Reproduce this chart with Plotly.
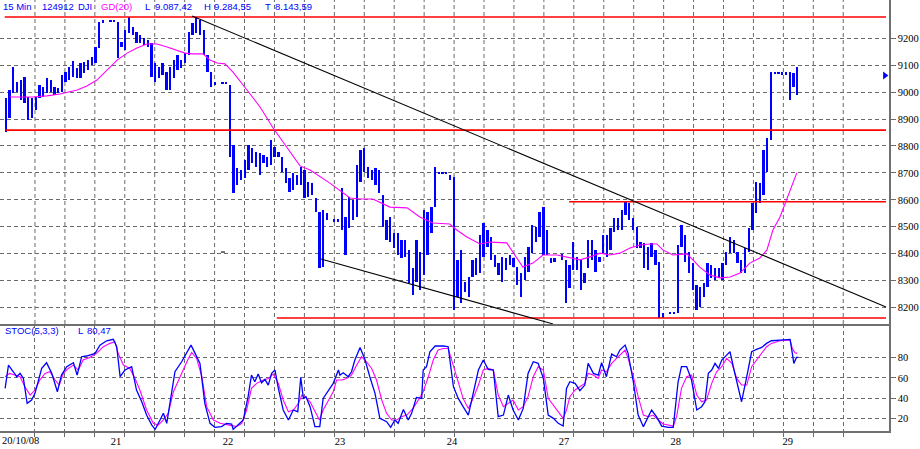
import plotly.graph_objects as go

# ---------------- data ----------------
# 15-minute bars: (slot, high, low); 30 slots per trading day, slot 0 = first bar of 20/10/08
bars = [
    (0, 8978, 8852), (1, 9008, 8904), (2, 9093, 8997), (3, 9038, 9001), (4, 9045, 8971),
    (5, 9056, 8960), (6, 8982, 8897), (7, 8978, 8904), (8, 8982, 8934), (9, 9027, 8978),
    (10, 9019, 8982), (11, 9053, 8997), (12, 9045, 9001), (13, 9019, 8989), (14, 9015, 8997),
    (15, 9064, 9001), (16, 9075, 9038), (17, 9093, 9045), (18, 9116, 9056), (19, 9090, 9053),
    (20, 9108, 9053), (21, 9112, 9071), (22, 9119, 9082), (23, 9131, 9101), (24, 9168, 9108),
    (25, 9261, 9164), (26, 9268, 9257), (28, 9266, 9261), (29, 9266, 9261),
    (30, 9261, 9127), (31, 9186, 9168), (32, 9231, 9157), (33, 9279, 9220), (34, 9242, 9212),
    (35, 9223, 9183), (36, 9212, 9183), (37, 9201, 9175), (38, 9194, 9168), (39, 9183, 9056),
    (40, 9108, 9038), (41, 9093, 9053), (42, 9108, 9064), (43, 9075, 9008), (44, 9093, 9008),
    (45, 9119, 9053), (46, 9138, 9082), (47, 9119, 9090), (48, 9145, 9108), (49, 9223, 9138),
    (50, 9257, 9212), (51, 9279, 9220), (52, 9268, 9212), (53, 9231, 9138), (54, 9138, 9075),
    (55, 9075, 9019), (56, 9038, 9027), (58, 9038, 9032), (59, 9038, 9032),
    (60, 9027, 8759), (61, 8804, 8625), (62, 8718, 8655), (63, 8711, 8674), (64, 8748, 8681),
    (65, 8804, 8711), (66, 8793, 8737), (67, 8778, 8722), (68, 8774, 8692), (69, 8767, 8737),
    (70, 8759, 8722), (71, 8822, 8729), (72, 8796, 8759), (73, 8778, 8759), (74, 8759, 8703),
    (75, 8718, 8662), (76, 8681, 8629), (77, 8700, 8636), (78, 8692, 8655), (79, 8722, 8655),
    (80, 8711, 8607), (81, 8666, 8611), (82, 8662, 8618), (83, 8607, 8555), (84, 8555, 8347),
    (85, 8562, 8350), (86, 8551, 8525), (88, 8527, 8521), (89, 8527, 8521),
    (90, 8644, 8488), (91, 8536, 8395), (92, 8611, 8495), (93, 8599, 8525), (94, 8729, 8536),
    (95, 8785, 8666), (96, 8793, 8703), (97, 8722, 8681), (98, 8711, 8674), (99, 8718, 8655),
    (100, 8711, 8625), (101, 8618, 8499), (102, 8525, 8451), (103, 8536, 8443), (104, 8477, 8421),
    (105, 8477, 8395), (106, 8451, 8384), (107, 8451, 8388), (108, 8414, 8291), (109, 8347, 8246),
    (110, 8451, 8295), (111, 8406, 8265), (112, 8562, 8321), (113, 8555, 8395), (114, 8573, 8477),
    (115, 8722, 8573), (116, 8703, 8697), (117, 8703, 8697), (118, 8703, 8697), (119, 8692, 8674),
    (120, 8685, 8191), (121, 8377, 8239), (122, 8414, 8217), (123, 8295, 8258), (124, 8313, 8239),
    (125, 8377, 8313), (126, 8384, 8321), (127, 8469, 8328), (128, 8514, 8388), (129, 8488, 8425),
    (130, 8462, 8377), (131, 8395, 8350), (132, 8365, 8321), (133, 8388, 8295), (134, 8384, 8339),
    (135, 8395, 8358), (136, 8384, 8350), (137, 8350, 8284), (138, 8328, 8239), (139, 8388, 8302),
    (140, 8425, 8332), (141, 8507, 8402), (142, 8499, 8443), (143, 8555, 8462), (144, 8573, 8395),
    (145, 8488, 8395), (146, 8384, 8365), (147, 8384, 8369), (149, 8400, 8378),
    (150, 8377, 8217), (151, 8358, 8272), (152, 8443, 8339), (153, 8388, 8339), (154, 8377, 8265),
    (155, 8328, 8291), (156, 8451, 8347), (157, 8451, 8377), (158, 8414, 8332), (159, 8388, 8369),
    (160, 8469, 8402), (161, 8469, 8388), (162, 8495, 8414), (163, 8533, 8481), (164, 8533, 8488),
    (165, 8562, 8488), (166, 8592, 8544), (167, 8588, 8525), (168, 8533, 8488), (169, 8499, 8421),
    (170, 8443, 8421), (171, 8440, 8347), (172, 8425, 8339), (173, 8440, 8388), (174, 8414, 8358),
    (175, 8369, 8161), (176, 8180, 8161), (178, 8182, 8176), (179, 8182, 8176),
    (180, 8432, 8180), (181, 8507, 8425), (182, 8469, 8369), (183, 8406, 8328), (184, 8365, 8265),
    (185, 8284, 8191), (186, 8276, 8202), (187, 8291, 8239), (188, 8365, 8276), (189, 8358, 8310),
    (190, 8347, 8302), (191, 8347, 8310), (192, 8365, 8302), (193, 8406, 8358), (194, 8462, 8402),
    (195, 8451, 8402), (196, 8406, 8365), (197, 8377, 8328), (198, 8421, 8328), (199, 8495, 8406),
    (200, 8588, 8488), (201, 8666, 8551), (202, 8662, 8588), (203, 8785, 8618), (204, 8830, 8703),
    (205, 9075, 8822), (206, 9075, 9067), (207, 9075, 9067), (208, 9075, 9064), (209, 9075, 9064),
    (210, 9075, 8971), (211, 9071, 9019), (212, 9093, 8989),
]

# GD(20) moving average: (slot, value)
ma20 = [
    (1.1, 8982), (7.3, 8982), (11.0, 8986), (14.5, 8993), (19.1, 9008), (21.7, 9023),
    (24.4, 9045), (27.1, 9082), (29.8, 9119), (32.5, 9145), (35.1, 9164), (37.8, 9179),
    (40.5, 9179), (43.2, 9168), (45.8, 9157), (48.0, 9145), (50.1, 9142), (52.8, 9142),
    (54.7, 9119), (56.6, 9108), (58.7, 9105), (60.8, 9075), (64.6, 9008), (68.1, 8945),
    (71.6, 8867), (75.3, 8796), (78.8, 8726), (81.5, 8711), (86.8, 8662), (92.2, 8607),
    (94.9, 8603), (98.3, 8603), (102.9, 8573), (107.5, 8570), (110.9, 8536), (114.4, 8514),
    (118.9, 8510), (120.8, 8488), (123.5, 8462), (127.0, 8436), (129.7, 8443), (134.2, 8440),
    (135.8, 8406), (138.5, 8350), (141.2, 8365), (143.9, 8395), (147.6, 8395), (151.1, 8384),
    (153.8, 8377), (156.5, 8388), (159.2, 8402), (161.8, 8395), (164.5, 8402), (167.2, 8421),
    (169.9, 8432), (172.5, 8436), (174.4, 8436), (176.0, 8414), (178.7, 8395), (182.5, 8399),
    (185.9, 8350), (188.6, 8321), (191.3, 8310), (194.0, 8313), (196.7, 8328), (199.3, 8365),
    (202.0, 8384), (203.9, 8414), (205.5, 8488), (207.4, 8536), (209.2, 8599), (210.9, 8662),
    (211.9, 8700),
]

# STOC(5,3,3) %K (blue) and %D (magenta): (slot, value)
stoch_k = [
    (-0.2, 49.6), (0.7, 72.7), (2.0, 66.1), (2.9, 61.2), (3.8, 64.5), (4.7, 59.5), (5.7, 34.8),
    (6.9, 38.1), (7.8, 44.7), (8.7, 57.9), (9.6, 69.4), (10.9, 75.0), (12.3, 64.5), (13.8, 46.3),
    (14.9, 62.8), (16.3, 71.1), (17.6, 74.4), (18.1, 75.0), (19.1, 62.8), (20.3, 81.0), (21.6, 81.7),
    (23.9, 84.3), (25.2, 92.5), (27.0, 96.8), (28.8, 98.2), (29.7, 90.9), (30.6, 61.2), (31.9, 67.8),
    (33.7, 71.1), (35.0, 48.0), (36.4, 36.4), (37.7, 23.2), (39.1, 13.3), (40.0, 9.0), (41.3, 18.3),
    (42.2, 24.9), (43.1, 15.0), (44.0, 34.8), (45.3, 66.1), (47.1, 76.0), (48.4, 84.3), (49.6, 92.5),
    (50.7, 84.3), (52.0, 74.4), (53.3, 34.8), (54.7, 15.0), (56.0, 11.0), (57.8, 11.7), (59.1, 15.0),
    (60.5, 14.3), (60.9, 9.0), (62.3, 14.3), (63.6, 18.3), (64.9, 41.4), (65.8, 62.8), (66.7, 56.2),
    (67.6, 63.8), (68.5, 55.2), (69.4, 58.5), (70.3, 52.9), (71.2, 64.5), (72.1, 67.8), (73.0, 49.6),
    (74.3, 28.2), (75.7, 18.3), (77.0, 28.2), (78.2, 26.5), (79.0, 60.5), (79.7, 39.7), (80.4, 41.4),
    (81.5, 31.5), (82.8, 11.7), (84.1, 11.7), (85.0, 39.7), (86.4, 48.0), (87.7, 54.6), (89.1, 67.8),
    (89.5, 62.8), (90.4, 65.1), (91.7, 61.2), (92.6, 66.1), (93.5, 77.7), (94.9, 90.2), (96.2, 78.3),
    (97.5, 61.2), (98.9, 44.7), (100.2, 19.9), (102.0, 16.6), (103.1, 11.0), (104.2, 18.3),
    (105.1, 15.0), (106.5, 28.8), (107.8, 18.3), (108.7, 24.9), (110.0, 40.7), (111.4, 39.7),
    (111.8, 67.8), (112.7, 71.1), (113.6, 85.9), (115.0, 91.6), (117.2, 91.6), (118.5, 90.9),
    (119.9, 51.3), (121.2, 39.7), (122.5, 31.5), (123.9, 23.2), (125.2, 44.7), (126.6, 67.8),
    (127.9, 77.7), (129.2, 68.4), (130.6, 67.8), (131.9, 21.6), (133.3, 23.2), (134.6, 43.0),
    (135.9, 28.2), (137.3, 18.3), (138.6, 29.8), (139.9, 64.5), (141.3, 76.0), (142.6, 74.4),
    (144.0, 59.5), (145.3, 23.2), (146.7, 19.9), (148.0, 15.0), (149.3, 12.3), (150.2, 49.6),
    (151.1, 56.2), (152.5, 54.6), (153.8, 47.3), (155.1, 52.9), (156.0, 74.4), (157.4, 64.5),
    (158.7, 62.8), (159.6, 75.0), (160.9, 61.2), (162.3, 83.6), (163.6, 81.0), (164.5, 87.6),
    (165.9, 92.5), (166.7, 84.3), (168.1, 56.2), (169.4, 23.2), (170.8, 11.7), (172.1, 21.6),
    (173.0, 28.2), (174.3, 21.6), (175.7, 12.3), (177.5, 11.0), (178.8, 11.0), (180.1, 56.2),
    (181.0, 71.1), (182.4, 71.1), (183.7, 57.9), (185.1, 28.2), (186.4, 31.5), (187.3, 36.4),
    (188.2, 64.5), (189.1, 67.8), (190.0, 74.4), (190.9, 69.4), (191.8, 77.7), (193.1, 82.6),
    (194.0, 85.9), (195.3, 64.5), (197.1, 36.4), (198.5, 61.2), (199.8, 85.9), (201.1, 88.3),
    (202.5, 90.2), (203.8, 94.2), (205.1, 96.8), (207.4, 97.5), (210.1, 98.2), (210.7, 84.3),
    (211.1, 74.4), (211.8, 80.3), (212.3, 80.3),
]
stoch_d = [
    (-0.2, 61.2), (1.0, 64.5), (2.4, 62.8), (3.8, 61.2), (5.1, 51.3), (6.5, 43.0), (7.8, 48.0),
    (9.1, 57.9), (10.5, 64.5), (11.8, 66.1), (13.2, 57.9), (14.3, 52.9), (15.4, 64.5), (16.7, 69.4),
    (18.1, 72.7), (19.4, 67.8), (20.7, 77.7), (22.5, 80.3), (24.3, 84.3), (26.1, 90.9), (27.9, 94.2),
    (29.2, 95.8), (30.1, 84.3), (31.5, 72.7), (33.2, 69.4), (34.6, 59.5), (35.9, 48.0), (37.7, 28.2),
    (39.5, 15.0), (40.8, 13.3), (42.2, 18.3), (43.5, 24.9), (44.9, 46.3), (46.2, 57.9), (47.5, 67.8),
    (48.9, 79.3), (49.8, 85.3), (51.1, 79.3), (52.5, 61.2), (53.8, 31.5), (55.6, 18.3), (57.4, 15.0),
    (60.0, 13.3), (61.8, 11.7), (63.2, 15.0), (64.5, 28.2), (65.8, 49.6), (67.2, 54.6), (69.0, 57.9),
    (70.3, 59.5), (71.6, 63.8), (73.0, 54.6), (74.3, 38.1), (75.7, 26.5), (77.0, 28.2), (78.4, 34.8),
    (79.3, 43.0), (80.4, 40.7), (81.5, 36.4), (82.8, 26.5), (84.0, 18.3), (85.0, 28.2), (86.4, 38.1),
    (87.7, 46.3), (88.6, 57.9), (90.0, 57.9), (91.3, 59.5), (92.6, 62.8), (94.0, 72.7), (95.3, 81.0),
    (96.6, 76.0), (98.0, 69.4), (99.3, 57.9), (100.7, 38.1), (102.0, 24.9), (103.4, 18.3),
    (104.7, 18.3), (106.0, 21.6), (107.4, 23.2), (109.1, 29.8), (110.5, 38.1), (111.8, 46.3),
    (113.2, 61.2), (114.5, 77.7), (115.8, 87.6), (117.2, 89.2), (118.5, 89.2), (119.9, 71.1),
    (121.6, 49.6), (122.5, 39.7), (123.9, 29.8), (125.2, 39.7), (126.6, 52.9), (127.9, 67.8),
    (129.2, 69.4), (130.6, 67.8), (131.9, 43.0), (133.3, 31.5), (134.6, 34.8), (135.9, 38.1),
    (137.3, 28.2), (138.6, 31.5), (139.9, 41.4), (141.3, 61.2), (142.6, 71.1), (144.0, 67.8),
    (145.3, 39.7), (146.7, 33.1), (148.0, 26.5), (149.3, 19.9), (150.2, 28.2), (151.1, 41.4),
    (152.5, 48.0), (153.8, 51.3), (155.1, 54.6), (156.0, 64.5), (157.4, 62.8), (158.7, 59.5),
    (159.6, 67.8), (160.9, 66.1), (162.3, 74.4), (163.6, 79.3), (164.5, 82.6), (165.9, 87.6),
    (166.7, 79.3), (168.1, 61.2), (169.4, 41.4), (170.8, 23.2), (172.1, 21.6), (173.4, 23.2),
    (174.8, 18.3), (176.1, 14.3), (178.8, 12.3), (179.7, 21.6), (181.0, 49.6), (182.4, 61.2),
    (183.7, 62.8), (185.1, 43.0), (186.4, 36.4), (187.7, 38.1), (189.1, 54.6), (190.4, 66.1),
    (191.8, 71.1), (193.1, 79.3), (194.5, 74.4), (195.8, 59.5), (197.1, 52.9), (198.5, 52.9),
    (199.8, 71.1), (201.1, 77.7), (202.5, 84.3), (203.8, 90.9), (205.1, 94.2), (207.4, 96.8),
    (210.1, 97.5), (210.7, 89.2), (211.4, 85.0), (212.0, 84.3),
]

# horizontal support / resistance levels: (level, from slot, to slot)
red_levels = [(9279, -0.3, 235.8), (8859, -0.1, 235.8), (8593, 150.9, 235.8), (8161, 72.6, 235.8)]
# trend lines: ((slot, price), (slot, price))
trend_lines = [((49.9, 9283), (235.8, 8202)), ((84.4, 8380), (146.6, 8139)), ((57.6, 8406), (58.7, 8406))]
last_marker = (235.5, 9062)

day_labels = ["20/10/08", "21", "22", "23", "24", "27", "28", "29"]
day_start_slot = [-0.5, 29.5, 59.5, 89.5, 119.5, 149.5, 179.5, 209.5]
price_ticks = [8200, 8300, 8400, 8500, 8600, 8700, 8800, 8900, 9000, 9100, 9200]
stoch_ticks = [20, 40, 60, 80]

header_items = [("15 Min", 1, "#0000ff"), ("124912", 40, "#0000ff"), ("DJI", 76, "#0000ff"),
                ("GD(20)", 99, "#ff00ff"), ("L", 143, "#0000ff"), ("9.087,42", 153, "#0000ff"),
                ("H", 202, "#0000ff"), ("9.284,55", 212, "#0000ff"), ("T", 263, "#0000ff"),
                ("8.143,59", 273, "#0000ff")]
stoch_header = [("STOC(5,3,3)", 3), ("L", 76), ("80,47", 85)]

# ---------------- figure ----------------
BLUE = "#0000ff"
MAG = "#ff00ff"
GRID = "#6a6a6a"
W_PLOT, H_PLOT = 889, 431
split = (431 - 324) / 431.0

fig = go.Figure()

bx = [b[0] for b in bars]
bh = [b[1] for b in bars]
bl = [b[2] for b in bars]
fig.add_trace(go.Bar(x=bx, y=[h - l for h, l in zip(bh, bl)], base=bl, width=0.62,
                     marker=dict(color=BLUE, line=dict(width=0)), xaxis="x", yaxis="y"))

for lvl, x0, x1 in red_levels:
    fig.add_trace(go.Scatter(x=[x0, x1], y=[lvl, lvl], mode="lines",
                             line=dict(color="#ff0000", width=1.6), xaxis="x", yaxis="y"))

fig.add_trace(go.Scatter(x=[p[0] for p in ma20], y=[p[1] for p in ma20], mode="lines",
                         line=dict(color=MAG, width=1.1), xaxis="x", yaxis="y"))

for (a, b) in trend_lines:
    fig.add_trace(go.Scatter(x=[a[0], b[0]], y=[a[1], b[1]], mode="lines",
                             line=dict(color="black", width=1.1), xaxis="x", yaxis="y"))

fig.add_trace(go.Scatter(x=[last_marker[0]], y=[last_marker[1]], mode="markers",
                         marker=dict(symbol="triangle-right", size=7, color=BLUE),
                         cliponaxis=False, xaxis="x", yaxis="y"))

fig.add_trace(go.Scatter(x=[p[0] for p in stoch_d], y=[p[1] for p in stoch_d], mode="lines",
                         line=dict(color=MAG, width=1.1), xaxis="x2", yaxis="y2"))
fig.add_trace(go.Scatter(x=[p[0] for p in stoch_k], y=[p[1] for p in stoch_k], mode="lines",
                         line=dict(color=BLUE, width=1.3), xaxis="x2", yaxis="y2"))

# vertical grid every 30 px
grid_x = [7.8 + 8.02 * k for k in range(28)]

x_range = [-1.572, 236.6]
tickfont = dict(family="Liberation Serif", size=10.5, color="black")
vgrid = dict(tickmode="array", tickvals=grid_x, showgrid=True, gridcolor=GRID,
             griddash="4px,3px", gridwidth=1)

fig.update_layout(
    width=920, height=449,
    margin=dict(l=0, r=31, t=0, b=18, autoexpand=False),
    paper_bgcolor="white", plot_bgcolor="white",
    showlegend=False, barmode="overlay", bargap=0,
    xaxis=dict(domain=[0, 1], range=x_range, anchor="y", showticklabels=False,
               tickmode="array", tickvals=day_start_slot[1:], ticks="", showgrid=False,
               zeroline=False, showline=True, linecolor="#707070", linewidth=1.5),
    xaxis2=dict(domain=[0, 1], range=x_range, anchor="y2", matches="x",
                tickmode="array", tickvals=day_start_slot[1:], ticktext=day_labels[1:],
                ticks="", showgrid=False, tickfont=tickfont, zeroline=False,
                showline=True, linecolor="#707070", linewidth=1.5,
                minor=dict(ticks="outside", ticklen=4, tickcolor=GRID, **vgrid)),
    yaxis=dict(domain=[split, 1], range=[8138.7, 9342.3], anchor="x", side="right",
               tickmode="array", tickvals=price_ticks, ticktext=[str(v) for v in price_ticks],
               showgrid=True, gridcolor=GRID, griddash="4px,3px", zeroline=False,
               ticks="outside", ticklen=5, tickcolor=GRID, tickfont=tickfont,
               showline=True, linecolor="#707070", linewidth=1.5),
    yaxis2=dict(domain=[0, split], range=[7.4, 113.4], anchor="x2", side="right",
                tickmode="array", tickvals=stoch_ticks, ticktext=[str(v) for v in stoch_ticks],
                showgrid=True, gridcolor=GRID, griddash="4px,3px", zeroline=False,
                ticks="outside", ticklen=5, tickcolor=GRID, tickfont=tickfont,
                showline=True, linecolor="#707070", linewidth=1.5),
)

# vertical dashed grid of the price panel
for gx in grid_x:
    fig.add_shape(type="line", xref="x", yref="paper", x0=gx, x1=gx, y0=split, y1=1,
                  layer="below", line=dict(color=GRID, width=1, dash="4px,3px"))

ann = []
hfont = dict(family="Liberation Sans", size=9.5)
for txt, px, col in header_items:
    ann.append(dict(text=txt, x=px / W_PLOT, y=1 - 6.5 / H_PLOT, xref="paper", yref="paper",
                    xanchor="left", yanchor="middle", showarrow=False,
                    font=dict(color=col, **hfont)))
for txt, px in stoch_header:
    ann.append(dict(text=txt, x=px / W_PLOT, y=1 - 330 / H_PLOT, xref="paper", yref="paper",
                    xanchor="left", yanchor="middle", showarrow=False,
                    font=dict(color=BLUE, **hfont)))
ann.append(dict(text=day_labels[0], x=0, y=-9.5 / H_PLOT, xref="paper", yref="paper",
                xanchor="left", yanchor="middle", showarrow=False, font=tickfont))
fig.update_layout(annotations=ann)

fig.write_html("out.html", config={"displayModeBar": False},
               post_script="document.body.style.margin='0px';document.body.style.overflow='hidden';")
